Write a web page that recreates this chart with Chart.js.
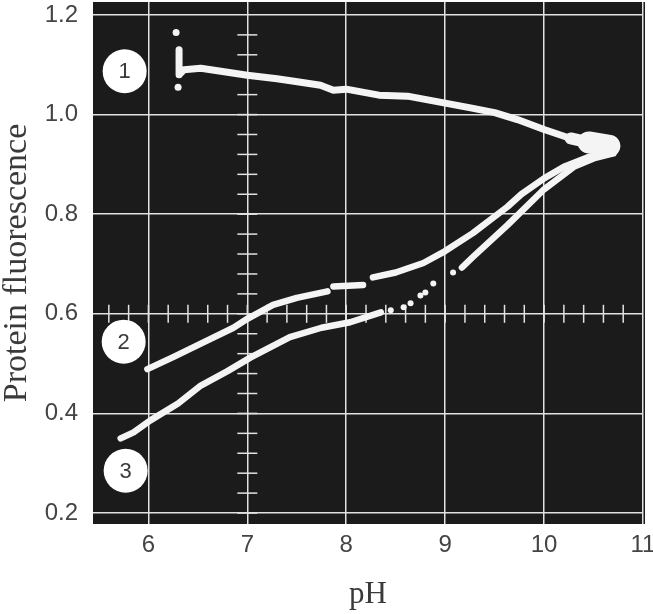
<!DOCTYPE html>
<html><head><meta charset="utf-8">
<script src="https://cdn.jsdelivr.net/npm/chart.js@4"></script>
<style>html,body{margin:0;padding:0;background:#fff;overflow:hidden}</style>
</head><body>
<canvas id="c" width="653" height="614"></canvas>
<script>
// ---- data ----
const xTicks = [6, 7, 8, 9, 10, 11];
const yTicks = [0.2, 0.4, 0.6, 0.8, 1.0, 1.2];

const curve1X = [6.31, 6.31, 6.36, 6.53, 6.8, 7.0, 7.3, 7.54, 7.74, 7.87, 8.0, 8.33, 8.62, 9.0, 9.27, 9.5, 9.73, 10.0, 10.27, 10.45, 10.66];
const curve1Y = [1.13, 1.08, 1.09, 1.093, 1.085, 1.079, 1.072, 1.065, 1.059, 1.049, 1.051, 1.039, 1.037, 1.023, 1.013, 1.004, 0.99, 0.97, 0.952, 0.944, 0.937];
const blipX = [6.28, 6.30];
const blipY = [1.165, 1.055];

const curve2X = [5.99, 6.25, 6.53, 6.86, 7.0, 7.26, 7.5, 7.81, 7.84, 7.87, 8.17, 8.22, 8.27, 8.5, 8.78, 9.0, 9.28, 9.63, 9.77, 10.0, 10.2, 10.45, 10.6, 10.7];
const curve2Y = [0.489, 0.513, 0.540, 0.572, 0.590, 0.618, 0.632, 0.645, null, 0.655, 0.658, null, 0.673, 0.683, 0.702, 0.726, 0.762, 0.815, 0.840, 0.872, 0.895, 0.915, 0.920, 0.925];

const curve3X = [5.72, 5.85, 6.02, 6.3, 6.53, 6.8, 7.03, 7.43, 7.75, 8.04, 8.35, 8.8, 9.17, 9.28, 9.63, 10.0, 10.3, 10.5, 10.7];
const curve3Y = [0.350, 0.362, 0.386, 0.42, 0.456, 0.485, 0.512, 0.553, 0.572, 0.583, 0.603, null, 0.693, 0.714, 0.778, 0.850, 0.895, 0.912, 0.922];
const dots3X = [8.45, 8.58, 8.65, 8.75, 8.80, 8.88, 9.08];
const dots3Y = [0.607, 0.613, 0.621, 0.637, 0.643, 0.661, 0.683];

const labelX = [5.76, 5.75, 5.77];
const labelY = [1.087, 0.544, 0.285];
const labelText = ['1', '2', '3'];

// graticule minor marks (oscilloscope screen decoration)
const gratXLineValue = 0.6;   // horizontal centre line
const gratYLineValue = 7;     // vertical centre line
const gratXMarks = []; for (let v = 5.6; v < 10.9; v += 0.2) gratXMarks.push(+v.toFixed(2));
const gratYMarks = []; for (let v = 0.2; v < 1.19; v += 0.04) gratYMarks.push(+v.toFixed(2));

const pts = (xs, ys) => xs.map((x, i) => ({x: x, y: ys[i]}));
const TRACE = '#f4f4f4';

const bgPlugin = {
  id: 'screen',
  beforeDraw(chart) {
    const {ctx, chartArea: a} = chart;
    ctx.save();
    ctx.fillStyle = '#fff';
    ctx.fillRect(0, 0, chart.width, chart.height);
    ctx.fillStyle = '#1b1b1b';
    ctx.fillRect(a.left, a.top, a.right - a.left + 2, a.bottom - a.top);
    ctx.restore();
  },
  beforeDatasetsDraw(chart) {
    const {ctx, scales: {x, y}} = chart;
    ctx.save();
    ctx.strokeStyle = '#e2e2e2';
    ctx.lineWidth = 1.5;
    const y0 = y.getPixelForValue(gratXLineValue);
    gratXMarks.forEach(v => {
      const px = x.getPixelForValue(v);
      ctx.beginPath(); ctx.moveTo(px, y0 - 9); ctx.lineTo(px, y0 + 9); ctx.stroke();
    });
    const x0 = x.getPixelForValue(gratYLineValue);
    gratYMarks.forEach(v => {
      const py = y.getPixelForValue(v);
      ctx.beginPath(); ctx.moveTo(x0 - 10, py); ctx.lineTo(x0 + 10, py); ctx.stroke();
    });
    ctx.restore();
  },
  afterDatasetsDraw(chart) {
    const {ctx} = chart;
    const meta = chart.getDatasetMeta(chart.data.datasets.length - 1);
    ctx.save();
    ctx.fillStyle = '#3a3a3a';
    ctx.font = '22px "Liberation Sans", Arial, sans-serif';
    ctx.textAlign = 'center';
    ctx.textBaseline = 'middle';
    meta.data.forEach((el, i) => ctx.fillText(labelText[i], el.x, el.y + 1));
    ctx.restore();
  }
};

new Chart(document.getElementById('c'), {
  type: 'scatter',
  data: {
    datasets: [
      {data: pts(curve1X, curve1Y), showLine: true, borderColor: TRACE, borderWidth: 7, pointRadius: 0, borderCapStyle: 'round', borderJoinStyle: 'round', spanGaps: false,
       segment: {borderWidth: c => (c.p0.parsed.x >= 10.4 ? 22 : (c.p0.parsed.x >= 10.2 ? 12 : 7))}},
      {data: pts(blipX, blipY), showLine: false, pointRadius: 3.5, backgroundColor: TRACE, borderWidth: 0},
      {data: pts(curve2X, curve2Y), showLine: true, borderColor: TRACE, borderWidth: 6.5, pointRadius: 0, borderCapStyle: 'round', borderJoinStyle: 'round', spanGaps: false},
      {data: pts(curve3X, curve3Y), showLine: true, borderColor: TRACE, borderWidth: 6.5, pointRadius: 0, borderCapStyle: 'round', borderJoinStyle: 'round', spanGaps: false},
      {data: pts(dots3X, dots3Y), showLine: false, pointRadius: 3, backgroundColor: TRACE, borderWidth: 0},
      {data: pts(labelX, labelY), showLine: false, pointRadius: 22, backgroundColor: '#ffffff', borderWidth: 0}
    ]
  },
  options: {
    responsive: false,
    animation: false,
    devicePixelRatio: 1,
    layout: {autoPadding: false, padding: {top: 2, right: 10, left: 0, bottom: 0}},
    plugins: {legend: {display: false}, tooltip: {enabled: false}},
    scales: {
      x: {
        type: 'linear', min: 5.44, max: 11.0,
        afterBuildTicks: s => { s.ticks = xTicks.map(v => ({value: v})); },
        afterFit: s => { s.height = 90; s.paddingLeft = 0; s.paddingRight = 0; },
        grid: {color: '#e2e2e2', lineWidth: 1.5, drawTicks: false},
        border: {display: false},
        ticks: {padding: 7, color: '#444', font: {family: '"Liberation Sans", Arial, sans-serif', size: 24}, callback: v => String(v), maxRotation: 0},
        title: {display: true, text: 'pH', color: '#3a3a3a', padding: {top: 0, bottom: 1}, font: {family: '"Liberation Serif", "Times New Roman", serif', size: 31}}
      },
      y: {
        type: 'linear', min: 0.178, max: 1.226,
        afterBuildTicks: s => { s.ticks = yTicks.map(v => ({value: v})); },
        afterFit: s => { s.width = 93; s.paddingTop = 0; s.paddingBottom = 0; },
        grid: {color: '#e2e2e2', lineWidth: 1.5, drawTicks: false},
        border: {display: false},
        ticks: {padding: 15, color: '#444', font: {family: '"Liberation Sans", Arial, sans-serif', size: 24}, callback: v => v.toFixed(1)},
        title: {display: true, text: 'Protein fluorescence', color: '#3a3a3a', padding: {top: 0, bottom: 0}, font: {family: '"Liberation Serif", "Times New Roman", serif', size: 34, lineHeight: 1}}
      }
    }
  },
  plugins: [bgPlugin]
});
</script>
</body></html>
